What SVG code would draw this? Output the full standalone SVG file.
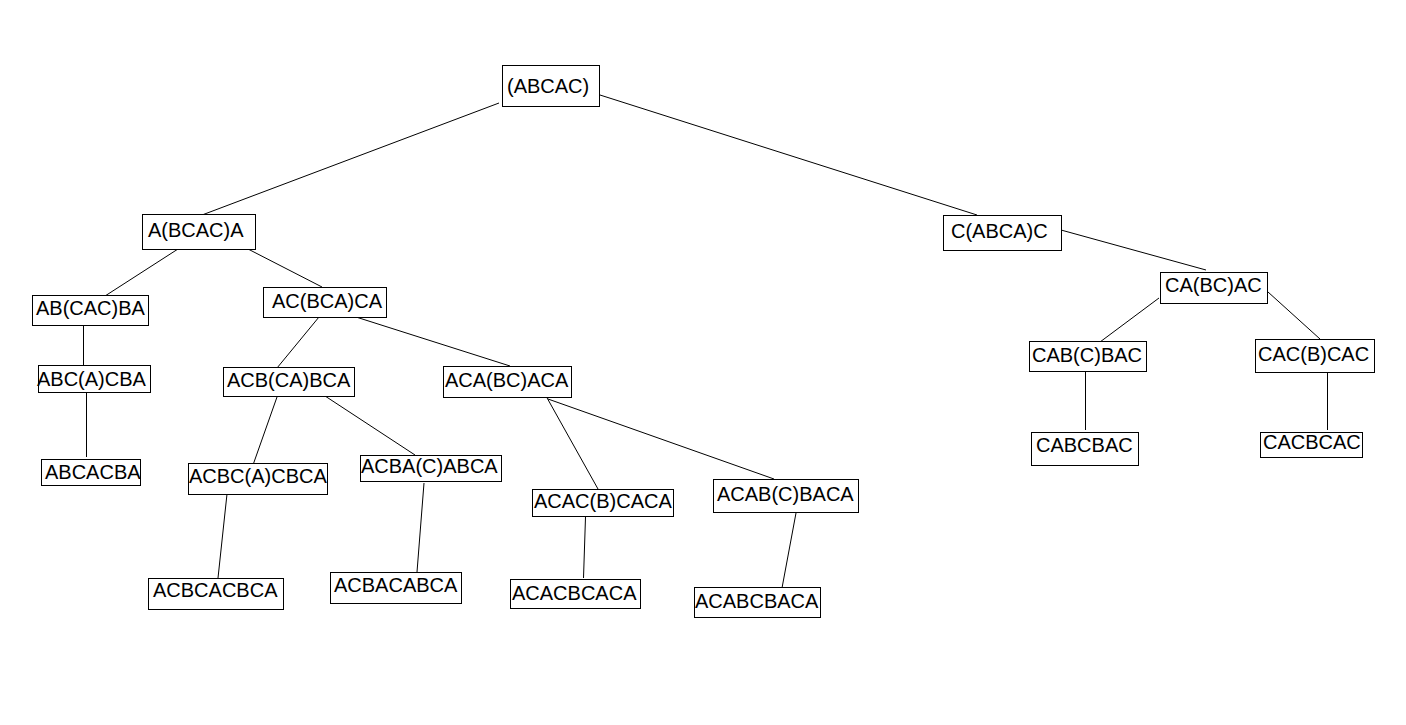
<svg xmlns="http://www.w3.org/2000/svg" width="1406" height="725" viewBox="0 0 1406 725">
<style>
.n rect{fill:#fff;stroke:#000;stroke-width:1}
text{font-family:"Liberation Sans",Arial,sans-serif;font-size:20px;fill:#000}
#edges line{stroke:#000;stroke-width:1}
</style>
<rect x="0" y="0" width="1406" height="725" fill="#fff"/>
<g id="edges">
<line x1="499" y1="103" x2="202" y2="215"/>
<line x1="600" y1="95" x2="977" y2="215"/>
<line x1="178" y1="249" x2="105" y2="296"/>
<line x1="248" y1="249" x2="322" y2="287"/>
<line x1="83.5" y1="325" x2="83.5" y2="365"/>
<line x1="86.5" y1="392" x2="86.5" y2="457"/>
<line x1="319" y1="317" x2="277" y2="368"/>
<line x1="356" y1="317" x2="510" y2="366"/>
<line x1="277" y1="397" x2="253" y2="465"/>
<line x1="322" y1="394" x2="415" y2="455"/>
<line x1="227" y1="494" x2="218" y2="578"/>
<line x1="424" y1="483" x2="417" y2="572"/>
<line x1="546" y1="396" x2="598" y2="489"/>
<line x1="548" y1="399" x2="774" y2="479"/>
<line x1="585.5" y1="517" x2="583.5" y2="578"/>
<line x1="796" y1="513" x2="782" y2="588"/>
<line x1="1061" y1="230" x2="1206" y2="270"/>
<line x1="1159" y1="298" x2="1100" y2="342"/>
<line x1="1268" y1="292" x2="1320" y2="339"/>
<line x1="1085.5" y1="372" x2="1085.5" y2="430"/>
<line x1="1327.5" y1="373" x2="1327.5" y2="430"/>
</g>
<g id="n-root" class="n"><rect x="502.5" y="65.5" width="97" height="41"/><text x="507" y="93">(ABCAC)</text></g>
<g id="n-A" class="n"><rect x="142.5" y="214.5" width="113" height="35"/><text x="148" y="237">A(BCAC)A</text></g>
<g id="n-C" class="n"><rect x="943.5" y="215.5" width="118" height="35"/><text x="951" y="238">C(ABCA)C</text></g>
<g id="n-AB" class="n"><rect x="32.5" y="295.5" width="116" height="30"/><text x="36" y="315">AB(CAC)BA</text></g>
<g id="n-ABC" class="n"><rect x="38.5" y="365.5" width="112" height="27"/><text x="37" y="386">ABC(A)CBA</text></g>
<g id="n-ABCACBA" class="n"><rect x="41.5" y="459.5" width="99" height="26"/><text x="45" y="479">ABCACBA</text></g>
<g id="n-AC" class="n"><rect x="263.5" y="287.5" width="123" height="30"/><text x="272" y="308">AC(BCA)CA</text></g>
<g id="n-ACB" class="n"><rect x="223.5" y="367.5" width="131" height="29"/><text x="227" y="387">ACB(CA)BCA</text></g>
<g id="n-ACA" class="n"><rect x="443.5" y="366.5" width="128" height="31"/><text x="445" y="387">ACA(BC)ACA</text></g>
<g id="n-ACBC" class="n"><rect x="188.5" y="463.5" width="139" height="31"/><text x="189" y="483">ACBC(A)CBCA</text></g>
<g id="n-ACBA" class="n"><rect x="360.5" y="455.5" width="141" height="26"/><text x="361" y="473">ACBA(C)ABCA</text></g>
<g id="n-ACBCACBCA" class="n"><rect x="148.5" y="578.5" width="135" height="31"/><text x="153" y="597">ACBCACBCA</text></g>
<g id="n-ACBACABCA" class="n"><rect x="330.5" y="572.5" width="131" height="31"/><text x="334" y="592">ACBACABCA</text></g>
<g id="n-ACAC" class="n"><rect x="532.5" y="489.5" width="141" height="27"/><text x="534" y="508">ACAC(B)CACA</text></g>
<g id="n-ACAB" class="n"><rect x="713.5" y="479.5" width="145" height="33"/><text x="717" y="501">ACAB(C)BACA</text></g>
<g id="n-ACACBCACA" class="n"><rect x="510.5" y="579.5" width="130" height="29"/><text x="512" y="600">ACACBCACA</text></g>
<g id="n-ACABCBACA" class="n"><rect x="694.5" y="587.5" width="126" height="30"/><text x="695" y="608">ACABCBACA</text></g>
<g id="n-CA" class="n"><rect x="1160.5" y="272.5" width="107" height="31"/><text x="1165" y="292">CA(BC)AC</text></g>
<g id="n-CAB" class="n"><rect x="1029.5" y="341.5" width="117" height="30"/><text x="1032" y="362">CAB(C)BAC</text></g>
<g id="n-CAC" class="n"><rect x="1255.5" y="339.5" width="119" height="33"/><text x="1258" y="361">CAC(B)CAC</text></g>
<g id="n-CABCBAC" class="n"><rect x="1031.5" y="432.5" width="107" height="33"/><text x="1036" y="452">CABCBAC</text></g>
<g id="n-CACBCAC" class="n"><rect x="1260.5" y="432.5" width="102" height="25"/><text x="1263" y="449">CACBCAC</text></g>
</svg>
